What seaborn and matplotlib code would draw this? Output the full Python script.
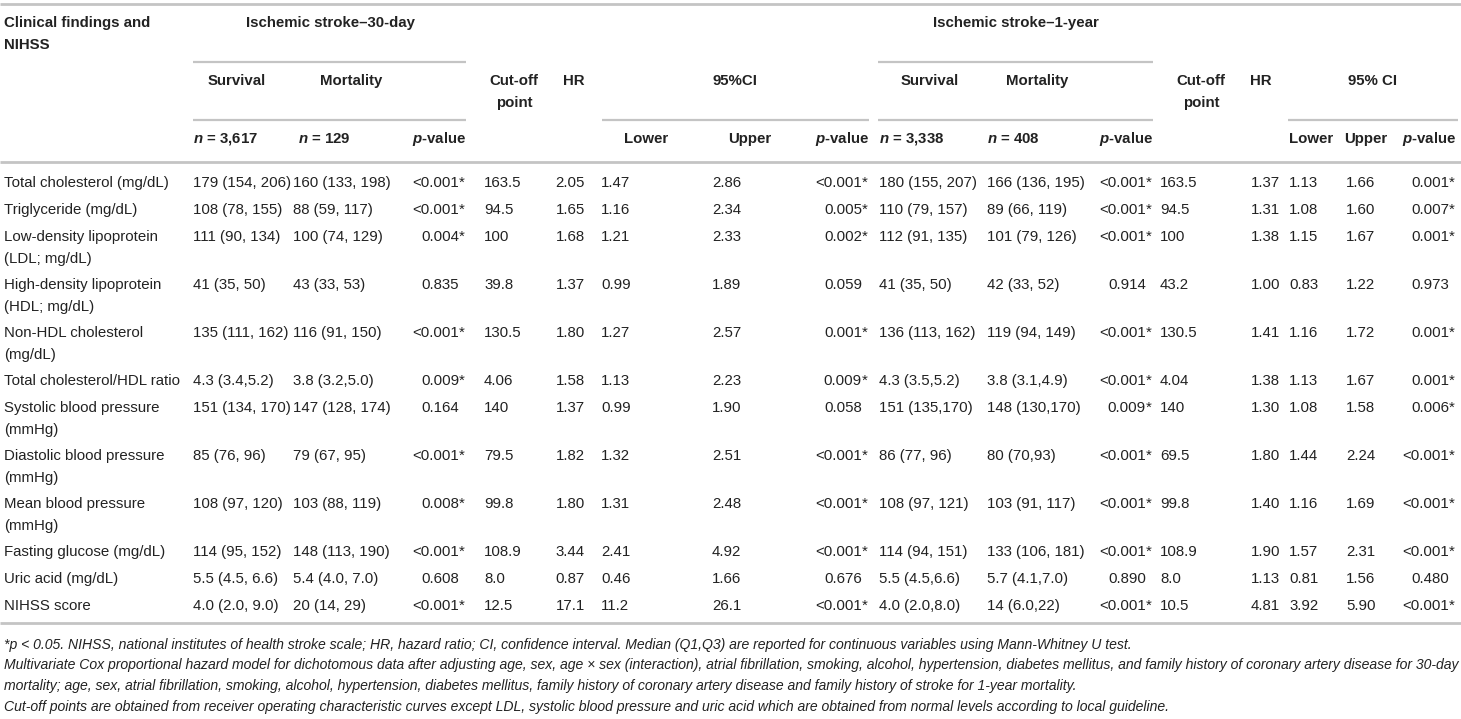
import matplotlib
matplotlib.use("Agg")
import matplotlib.pyplot as plt
import seaborn as sns

# ---------------- data ----------------
labels = ["Total cholesterol (mg/dL)", "Triglyceride (mg/dL)",
          "Low-density lipoprotein\n(LDL; mg/dL)", "High-density lipoprotein\n(HDL; mg/dL)",
          "Non-HDL cholesterol\n(mg/dL)", "Total cholesterol/HDL ratio",
          "Systolic blood pressure\n(mmHg)", "Diastolic blood pressure\n(mmHg)",
          "Mean blood pressure\n(mmHg)", "Fasting glucose (mg/dL)", "Uric acid (mg/dL)",
          "NIHSS score"]

surv30 = ["179 (154, 206)", "108 (78, 155)", "111 (90, 134)", "41 (35, 50)", "135 (111, 162)",
          "4.3 (3.4,5.2)", "151 (134, 170)", "85 (76, 96)", "108 (97, 120)", "114 (95, 152)",
          "5.5 (4.5, 6.6)", "4.0 (2.0, 9.0)"]
mort30 = ["160 (133, 198)", "88 (59, 117)", "100 (74, 129)", "43 (33, 53)", "116 (91, 150)",
          "3.8 (3.2,5.0)", "147 (128, 174)", "79 (67, 95)", "103 (88, 119)", "148 (113, 190)",
          "5.4 (4.0, 7.0)", "20 (14, 29)"]
p30 = ["<0.001*", "<0.001*", "0.004*", "0.835", "<0.001*", "0.009*", "0.164", "<0.001*",
       "0.008*", "<0.001*", "0.608", "<0.001*"]
cut30 = ["163.5", "94.5", "100", "39.8", "130.5", "4.06", "140", "79.5", "99.8", "108.9", "8.0", "12.5"]
hr30 = ["2.05", "1.65", "1.68", "1.37", "1.80", "1.58", "1.37", "1.82", "1.80", "3.44", "0.87", "17.1"]
lo30 = ["1.47", "1.16", "1.21", "0.99", "1.27", "1.13", "0.99", "1.32", "1.31", "2.41", "0.46", "11.2"]
up30 = ["2.86", "2.34", "2.33", "1.89", "2.57", "2.23", "1.90", "2.51", "2.48", "4.92", "1.66", "26.1"]
pci30 = ["<0.001*", "0.005*", "0.002*", "0.059", "0.001*", "0.009*", "0.058", "<0.001*",
         "<0.001*", "<0.001*", "0.676", "<0.001*"]

surv1y = ["180 (155, 207)", "110 (79, 157)", "112 (91, 135)", "41 (35, 50)", "136 (113, 162)",
          "4.3 (3.5,5.2)", "151 (135,170)", "86 (77, 96)", "108 (97, 121)", "114 (94, 151)",
          "5.5 (4.5,6.6)", "4.0 (2.0,8.0)"]
mort1y = ["166 (136, 195)", "89 (66, 119)", "101 (79, 126)", "42 (33, 52)", "119 (94, 149)",
          "3.8 (3.1,4.9)", "148 (130,170)", "80 (70,93)", "103 (91, 117)", "133 (106, 181)",
          "5.7 (4.1,7.0)", "14 (6.0,22)"]
p1y = ["<0.001*", "<0.001*", "<0.001*", "0.914", "<0.001*", "<0.001*", "0.009*", "<0.001*",
       "<0.001*", "<0.001*", "0.890", "<0.001*"]
cut1y = ["163.5", "94.5", "100", "43.2", "130.5", "4.04", "140", "69.5", "99.8", "108.9", "8.0", "10.5"]
hr1y = ["1.37", "1.31", "1.38", "1.00", "1.41", "1.38", "1.30", "1.80", "1.40", "1.90", "1.13", "4.81"]
lo1y = ["1.13", "1.08", "1.15", "0.83", "1.16", "1.13", "1.08", "1.44", "1.16", "1.57", "0.81", "3.92"]
up1y = ["1.66", "1.60", "1.67", "1.22", "1.72", "1.67", "1.58", "2.24", "1.69", "2.31", "1.56", "5.90"]
pci1y = ["0.001*", "0.007*", "0.001*", "0.973", "0.001*", "0.001*", "0.006*", "<0.001*",
         "<0.001*", "<0.001*", "0.480", "<0.001*"]

footnotes = [
    "*p < 0.05. NIHSS, national institutes of health stroke scale; HR, hazard ratio; CI, confidence interval. "
    "Median (Q1,Q3) are reported for continuous variables using Mann-Whitney U test.",
    "Multivariate Cox proportional hazard model for dichotomous data after adjusting age, sex, age \u00d7 sex "
    "(interaction), atrial fibrillation, smoking, alcohol, hypertension, diabetes mellitus, and family history "
    "of coronary artery disease for 30-day",
    "mortality; age, sex, atrial fibrillation, smoking, alcohol, hypertension, diabetes mellitus, family history "
    "of coronary artery disease and family history of stroke for 1-year mortality.",
    "Cut-off points are obtained from receiver operating characteristic curves except LDL, systolic blood "
    "pressure and uric acid which are obtained from normal levels according to local guideline.",
]

# ---------------- style ----------------
sns.set_theme(style="white")
plt.rcParams["font.family"] = ["Liberation Sans", "DejaVu Sans"]
plt.rcParams["mathtext.fontset"] = "custom"
plt.rcParams["mathtext.rm"] = "Liberation Sans:bold"
plt.rcParams["mathtext.it"] = "Liberation Sans:italic:bold"
plt.rcParams["mathtext.bf"] = "Liberation Sans:bold"

W, H = 1461, 719
fig = plt.figure(figsize=(W / 100, H / 100), dpi=100)
ax = fig.add_axes([0, 0, 1, 1])
ax.set_xlim(0, W)
ax.set_ylim(H, 0)
ax.axis("off")

TXT = "#222222"
RULE = "#c4c4c4"
FS = 10.8    # ~15 px
FN = 10.05   # footnote

def t(x, y, s, ha="left", bold=False, italic=False, fs=FS):
    ax.text(x, y, s, ha=ha, va="center", fontsize=fs, color=TXT,
            fontweight="bold" if bold else "normal",
            fontstyle="italic" if italic else "normal")

def rule(x0, x1, y, lw=1.6):
    ax.plot([x0, x1], [y, y], color=RULE, lw=lw, solid_capstyle="butt")

# rules
rule(0, W, 4, 2.0)
rule(193, 466, 62)
rule(878, 1153, 62)
rule(193, 466, 120)
rule(602, 869, 120)
rule(878, 1153, 120)
rule(1288, 1458, 120)
rule(0, W, 162, 2.0)
rule(0, W, 623, 2.0)

# headers
t(4, 23, "Clinical findings and", bold=True)
t(4, 45, "NIHSS", bold=True)
t(330, 23, "Ischemic stroke\u201330-day", ha="center", bold=True)
t(1016, 23, "Ischemic stroke\u20131-year", ha="center", bold=True)

t(237, 81, "Survival", ha="center", bold=True)
t(351, 81, "Mortality", ha="center", bold=True)
t(514, 81, "Cut-off", ha="center", bold=True)
t(514, 103, "point", ha="center", bold=True)
t(563, 81, "HR", bold=True)
t(735, 81, "95%CI", ha="center", bold=True)
t(930, 81, "Survival", ha="center", bold=True)
t(1037, 81, "Mortality", ha="center", bold=True)
t(1201, 81, "Cut-off", ha="center", bold=True)
t(1201, 103, "point", ha="center", bold=True)
t(1250, 81, "HR", bold=True)
t(1372, 81, "95% CI", ha="center", bold=True)

t(193, 139, r"$n$ = 3,617", bold=True)
t(298, 139, r"$n$ = 129", bold=True)
t(466, 139, r"$p$-value", ha="right", bold=True)
t(646, 139, "Lower", ha="center", bold=True)
t(750, 139, "Upper", ha="center", bold=True)
t(869, 139, r"$p$-value", ha="right", bold=True)
t(879, 139, r"$n$ = 3,338", bold=True)
t(987, 139, r"$n$ = 408", bold=True)
t(1153, 139, r"$p$-value", ha="right", bold=True)
t(1289, 139, "Lower", bold=True)
t(1344, 139, "Upper", bold=True)
t(1456, 139, r"$p$-value", ha="right", bold=True)

# body
nlines = [lab.count("\n") + 1 for lab in labels]
y = 183
row_y = []
for n in nlines:
    row_y.append(y)
    y += 27 if n == 1 else 48

def pval(x, yy, s):
    if s.endswith("*"):
        t(x, yy, s[:-1], ha="right")
        t(x, yy, "*")
    else:
        t(x, yy, s, ha="right")

for i, yy in enumerate(row_y):
    for k, line in enumerate(labels[i].split("\n")):
        t(4, yy + 22 * k, line)
    t(193, yy, surv30[i])
    t(293, yy, mort30[i])
    pval(459, yy, p30[i])
    t(484, yy, cut30[i])
    t(585, yy, hr30[i], ha="right")
    t(601, yy, lo30[i])
    t(712, yy, up30[i])
    pval(862, yy, pci30[i])
    t(879, yy, surv1y[i])
    t(987, yy, mort1y[i])
    pval(1146, yy, p1y[i])
    t(1160, yy, cut1y[i])
    t(1280, yy, hr1y[i], ha="right")
    t(1289, yy, lo1y[i])
    t(1346, yy, up1y[i])
    pval(1449, yy, pci1y[i])

for k, line in enumerate(footnotes):
    t(4, 645 + 20.5 * k, line, italic=True, fs=FN)

fig.savefig("out.png", dpi=100)
